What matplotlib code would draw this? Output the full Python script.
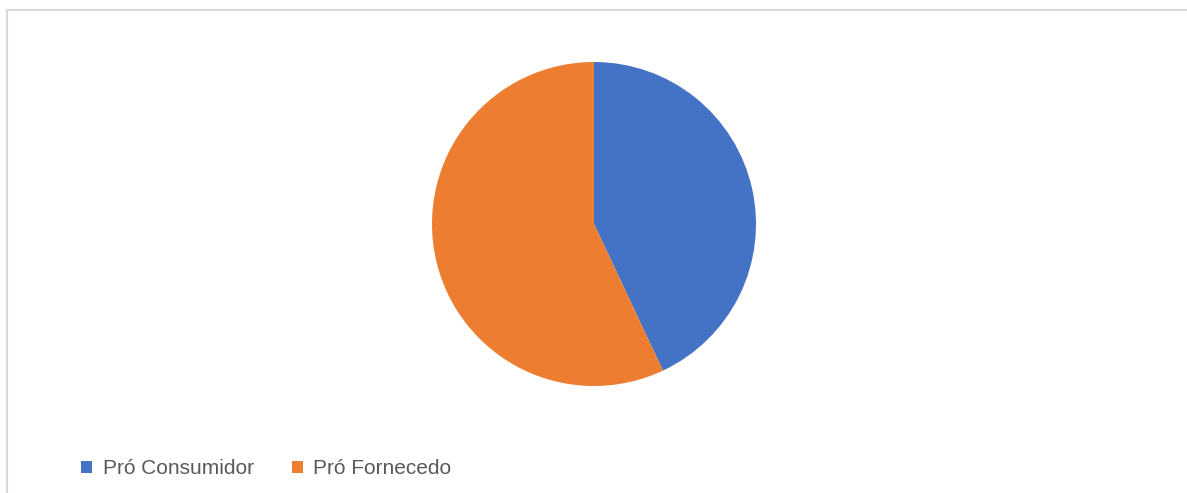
import matplotlib.pyplot as plt
from matplotlib.patches import Patch, Rectangle

labels = ['Pró Consumidor', 'Pró Fornecedo']
values = [43, 57]
colors = ['#4472C4', '#ED7D31']

W, H = 1187, 493
fig = plt.figure(figsize=(W / 100, H / 100), dpi=100)
plt.rcParams['font.family'] = ['Liberation Sans', 'DejaVu Sans']

# chart area border (cut off at right/bottom)
fig.patches.append(Rectangle((7 / W, -0.1), 1.2, 1 - 10 / H + 0.1,
                             transform=fig.transFigure, fill=False,
                             edgecolor='#D9D9D9', linewidth=1.5))

ax = fig.add_axes([(594 - 162) / W, (H - 386) / H, 324 / W, 324 / H])
ax.pie(values, colors=colors, startangle=90, counterclock=False,
       wedgeprops=dict(linewidth=0))
ax.set_xlim(-1, 1)
ax.set_ylim(-1, 1)
ax.set_aspect('equal')

handles = [Patch(facecolor=c, edgecolor='none') for c in colors]
fig.legend(handles, labels, loc='center left',
           bbox_to_anchor=(62 / W, 1 - 469 / H), ncol=2, frameon=False,
           fontsize=15, labelcolor='#595959', handlelength=0.55,
           handleheight=0.55, handletextpad=0.5, columnspacing=1.82)

fig.savefig('out.png', dpi=100)
